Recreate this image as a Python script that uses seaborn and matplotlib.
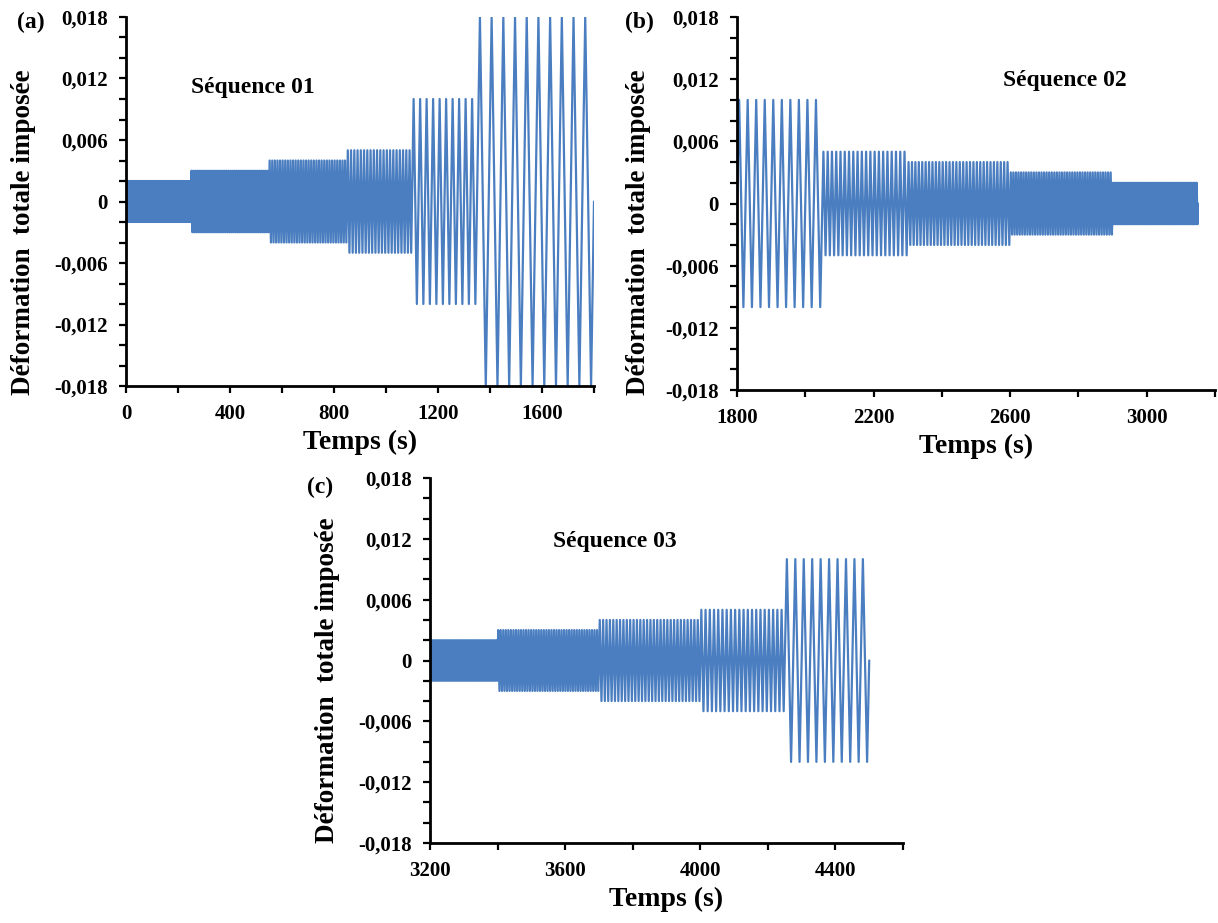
import numpy as np
import pandas as pd
import seaborn as sns
import matplotlib
matplotlib.use('Agg')
import matplotlib.pyplot as plt
from matplotlib.ticker import MultipleLocator, FixedLocator, FixedFormatter

#--------------------------------------------------------------------------------------------------------------------------
# Loading blocks: amplitude, number of cycles, block duration (s)
seq1_start = 0
seq1_amp = [0.002, 0.003, 0.004, 0.005, 0.010, 0.018]
seq1_cycles = [50, 40, 30, 20, 10, 10]
seq1_dur = [250, 300, 300, 250, 250, 450]

seq2_start = 1800
seq2_amp = [0.010, 0.005, 0.004, 0.003, 0.002]
seq2_cycles = [10, 20, 30, 40, 50]
seq2_dur = [250, 250, 300, 300, 250]

seq3_start = 3200
seq3_amp = [0.002, 0.003, 0.004, 0.005, 0.010]
seq3_cycles = [40, 40, 30, 20, 10]
seq3_dur = [200, 300, 300, 250, 250]

panel_letters = ['(a)', '(b)', '(c)']
seq_names = ['Séquence 01', 'Séquence 02', 'Séquence 03']
x_limits = [(0, 1800), (1800, 3200), (3200, 4600)]
x_ticks = [[0, 400, 800, 1200, 1600], [1800, 2200, 2600, 3000], [3200, 3600, 4000, 4400]]
y_ticks = [-0.018, -0.012, -0.006, 0, 0.006, 0.012, 0.018]
y_labels = ['-0,018', '-0,012', '-0,006', '0', '0,006', '0,012', '0,018']

#--------------------------------------------------------------------------------------------------------------------------
def build_history(start, amps, cycles, durs):
    # vertices of the imposed triangular strain signal, block after block
    t, eps = [start], [0.0]
    t0 = start
    for a, n, d in zip(amps, cycles, durs):
        period = d / n
        for k in range(n):
            c = t0 + k * period
            t += [c + period / 4, c + 3 * period / 4]
            eps += [a, -a]
        t0 += d
        t.append(t0)
        eps.append(0.0)
    return pd.DataFrame({'Temps': t, 'Deformation': eps})

df1 = build_history(seq1_start, seq1_amp, seq1_cycles, seq1_dur)
df2 = build_history(seq2_start, seq2_amp, seq2_cycles, seq2_dur)
df3 = build_history(seq3_start, seq3_amp, seq3_cycles, seq3_dur)

#--------------------------------------------------------------------------------------------------------------------------
sns.set_theme(style='ticks')
plt.rcParams['font.family'] = ['Liberation Serif', 'DejaVu Serif']
plt.rcParams['font.weight'] = 'bold'
plt.rcParams['axes.labelweight'] = 'bold'
plt.rcParams['axes.linewidth'] = 2.0
for key in ['text.color', 'axes.labelcolor', 'xtick.color', 'ytick.color', 'axes.edgecolor']:
    plt.rcParams[key] = 'black'

W, H = 1218, 923
fig = plt.figure(figsize=(W / 100, H / 100), dpi=100)

# axes boxes in pixels: left, top, right, bottom
boxes = [(126, 17, 594, 386), (737, 17, 1215, 390), (430, 478, 903, 843)]
ylabel_xy = [(36, 232), (651, 232), (340, 680)]
annot_pos = [(0.271, 0.81), (0.686, 0.831), (0.391, 0.827)]
line_color = '#4A7EC0'

for i, df in enumerate([df1, df2, df3]):
    l, t, r, b = boxes[i]
    ax = fig.add_axes([l / W, 1 - b / H, (r - l) / W, (b - t) / H])
    sns.lineplot(data=df, x='Temps', y='Deformation', ax=ax, sort=False, estimator=None,
                 color=line_color, linewidth=1.6)
    ax.set_xlim(*x_limits[i])
    ax.set_ylim(-0.018, 0.018)

    ax.xaxis.set_major_locator(FixedLocator(x_ticks[i]))
    ax.xaxis.set_minor_locator(MultipleLocator(200))
    ax.yaxis.set_major_locator(FixedLocator(y_ticks))
    ax.yaxis.set_major_formatter(FixedFormatter(y_labels))
    ax.yaxis.set_minor_locator(MultipleLocator(0.002))
    ax.tick_params(which='both', direction='out', length=5, width=1.6, color='black')
    ax.tick_params(axis='both', which='major', labelsize=15, pad=8, labelcolor='black')
    for lab in ax.get_xticklabels() + ax.get_yticklabels():
        lab.set_fontweight('bold')

    ax.set_xlabel('Temps (s)', fontsize=20, fontweight='bold')
    ax.set_ylabel('Déformation  totale imposée', fontsize=19.5, fontweight='bold')
    lx, ly = ylabel_xy[i]
    ax.yaxis.set_label_coords((lx - l) / (r - l), (b - ly) / (b - t))
    sns.despine(ax=ax)
    for s in ['left', 'bottom']:
        ax.spines[s].set_color('black')

    ax.text(*annot_pos[i], seq_names[i], transform=ax.transAxes, fontsize=17,
            fontweight='bold', ha='center', va='center')

letter_pos = [(31, 22), (639, 22), (320, 487)]
for (x, y), s in zip(letter_pos, panel_letters):
    fig.text(x / W, 1 - y / H, s, fontsize=17, fontweight='bold', ha='center', va='center')

fig.savefig('out.png', dpi=100)
